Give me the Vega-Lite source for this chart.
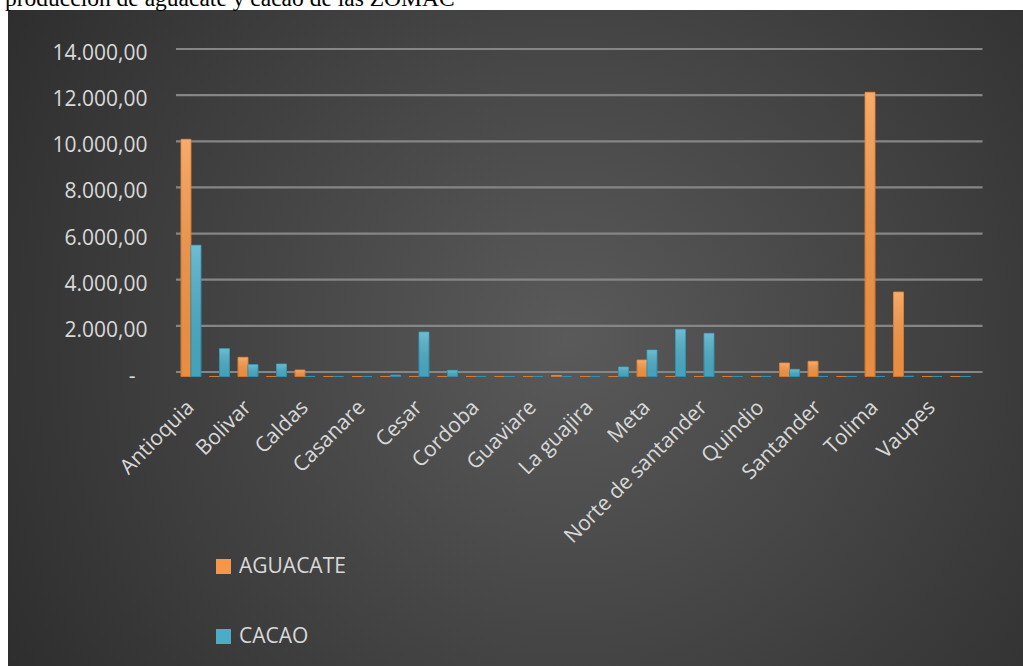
{
  "$schema": "https://vega.github.io/schema/vega-lite/v6.json",
  "width": 1015,
  "height": 656,
  "autosize": {"type": "none"},
  "padding": {"left": 8, "top": 10, "right": 0, "bottom": 0},
  "background": "white",
  "title": {
    "text": "producción de aguacate y cacao de las ZOMAC",
    "anchor": "start",
    "frame": "group",
    "font": "Liberation Serif",
    "fontSize": 23.5,
    "fontWeight": "normal",
    "color": "black",
    "baseline": "alphabetic",
    "offset": 0,
    "dx": -3,
    "dy": 19
  },
  "view": {
    "fill": {
      "gradient": "radial",
      "x1": 0.55, "y1": 0.5, "r1": 0,
      "x2": 0.55, "y2": 0.5, "r2": 0.75,
      "stops": [
        {"offset": 0, "color": "#5a5a5a"},
        {"offset": 1, "color": "#262626"}
      ]
    },
    "stroke": null
  },
  "config": {
    "locale": {
      "number": {"decimal": ",", "thousands": ".", "grouping": [3], "currency": ["", ""]}
    }
  },
  "datasets": {
    "produccion": [
      {"departamento": "Antioquia", "producto": "AGUACATE", "valor": 10280},
      {"departamento": "Antioquia", "producto": "CACAO", "valor": 5690},
      {"departamento": "Arauca", "producto": "AGUACATE", "valor": 0},
      {"departamento": "Arauca", "producto": "CACAO", "valor": 1205},
      {"departamento": "Bolivar", "producto": "AGUACATE", "valor": 832},
      {"departamento": "Bolivar", "producto": "CACAO", "valor": 512},
      {"departamento": "Boyaca", "producto": "AGUACATE", "valor": 0},
      {"departamento": "Boyaca", "producto": "CACAO", "valor": 542},
      {"departamento": "Caldas", "producto": "AGUACATE", "valor": 282},
      {"departamento": "Caldas", "producto": "CACAO", "valor": 0},
      {"departamento": "Caqueta", "producto": "AGUACATE", "valor": 0},
      {"departamento": "Caqueta", "producto": "CACAO", "valor": 0},
      {"departamento": "Casanare", "producto": "AGUACATE", "valor": 0},
      {"departamento": "Casanare", "producto": "CACAO", "valor": 0},
      {"departamento": "Cauca", "producto": "AGUACATE", "valor": 0},
      {"departamento": "Cauca", "producto": "CACAO", "valor": 60},
      {"departamento": "Cesar", "producto": "AGUACATE", "valor": 0},
      {"departamento": "Cesar", "producto": "CACAO", "valor": 1929},
      {"departamento": "Choco", "producto": "AGUACATE", "valor": 0},
      {"departamento": "Choco", "producto": "CACAO", "valor": 267},
      {"departamento": "Cordoba", "producto": "AGUACATE", "valor": 0},
      {"departamento": "Cordoba", "producto": "CACAO", "valor": 0},
      {"departamento": "Cundinamarca", "producto": "AGUACATE", "valor": 0},
      {"departamento": "Cundinamarca", "producto": "CACAO", "valor": 0},
      {"departamento": "Guaviare", "producto": "AGUACATE", "valor": 0},
      {"departamento": "Guaviare", "producto": "CACAO", "valor": 0},
      {"departamento": "Huila", "producto": "AGUACATE", "valor": 45},
      {"departamento": "Huila", "producto": "CACAO", "valor": 0},
      {"departamento": "La guajira", "producto": "AGUACATE", "valor": 0},
      {"departamento": "La guajira", "producto": "CACAO", "valor": 0},
      {"departamento": "Magdalena", "producto": "AGUACATE", "valor": 0},
      {"departamento": "Magdalena", "producto": "CACAO", "valor": 412},
      {"departamento": "Meta", "producto": "AGUACATE", "valor": 715},
      {"departamento": "Meta", "producto": "CACAO", "valor": 1149},
      {"departamento": "Nariño", "producto": "AGUACATE", "valor": 0},
      {"departamento": "Nariño", "producto": "CACAO", "valor": 2046},
      {"departamento": "Norte de santander", "producto": "AGUACATE", "valor": 0},
      {"departamento": "Norte de santander", "producto": "CACAO", "valor": 1872},
      {"departamento": "Putumayo", "producto": "AGUACATE", "valor": 0},
      {"departamento": "Putumayo", "producto": "CACAO", "valor": 0},
      {"departamento": "Quindio", "producto": "AGUACATE", "valor": 0},
      {"departamento": "Quindio", "producto": "CACAO", "valor": 0},
      {"departamento": "Risaralda", "producto": "AGUACATE", "valor": 585},
      {"departamento": "Risaralda", "producto": "CACAO", "valor": 312},
      {"departamento": "Santander", "producto": "AGUACATE", "valor": 658},
      {"departamento": "Santander", "producto": "CACAO", "valor": 0},
      {"departamento": "Sucre", "producto": "AGUACATE", "valor": 0},
      {"departamento": "Sucre", "producto": "CACAO", "valor": 0},
      {"departamento": "Tolima", "producto": "AGUACATE", "valor": 12318},
      {"departamento": "Tolima", "producto": "CACAO", "valor": 0},
      {"departamento": "Valle del cauca", "producto": "AGUACATE", "valor": 3662},
      {"departamento": "Valle del cauca", "producto": "CACAO", "valor": 10},
      {"departamento": "Vaupes", "producto": "AGUACATE", "valor": 0},
      {"departamento": "Vaupes", "producto": "CACAO", "valor": 0},
      {"departamento": "Vichada", "producto": "AGUACATE", "valor": 0},
      {"departamento": "Vichada", "producto": "CACAO", "valor": 0}
    ],
    "rejilla": [
      {"v": 0}, {"v": 2000}, {"v": 4000}, {"v": 6000},
      {"v": 8000}, {"v": 10000}, {"v": 12000}, {"v": 14000}
    ]
  },
  "layer": [
    {
      "data": {"name": "rejilla"},
      "mark": {
        "type": "rule",
        "color": "#868686",
        "strokeWidth": 2.2,
        "xOffset": -15,
        "x2Offset": 22,
        "yOffset": -4.5
      },
      "encoding": {
        "x": {"datum": "Antioquia", "type": "nominal"},
        "x2": {"datum": "Vichada"},
        "y": {"field": "v", "type": "quantitative", "title": null}
      }
    },
    {
      "data": {"name": "produccion"},
      "mark": {"type": "bar", "strokeWidth": 1},
      "encoding": {
        "x": {
          "field": "departamento",
          "type": "nominal",
          "sort": null,
          "scale": {
            "domain": ["Antioquia", "Arauca", "Bolivar", "Boyaca", "Caldas", "Caqueta", "Casanare", "Cauca", "Cesar", "Choco", "Cordoba", "Cundinamarca", "Guaviare", "Huila", "La guajira", "Magdalena", "Meta", "Nariño", "Norte de santander", "Putumayo", "Quindio", "Risaralda", "Santander", "Sucre", "Tolima", "Valle del cauca", "Vaupes", "Vichada"],
            "range": [173, 962.5],
            "paddingInner": 0.3,
            "paddingOuter": 0
          },
          "axis": {
            "title": null,
            "values": ["Antioquia", "Bolivar", "Caldas", "Casanare", "Cesar", "Cordoba", "Guaviare", "La guajira", "Meta", "Norte de santander", "Quindio", "Santander", "Tolima", "Vaupes"],
            "labelAngle": -45,
            "labelFont": "Open Sans",
            "labelFontSize": 21,
            "labelColor": "#d9d9d9",
            "labelLimit": 400,
            "labelOverlap": false,
            "domain": false,
            "ticks": false,
            "grid": false,
            "labelPadding": 4,
            "offset": -266
          }
        },
        "xOffset": {"field": "producto", "sort": null},
        "y": {
          "field": "valor",
          "type": "quantitative",
          "title": null,
          "scale": {"domain": [-12548, 15885], "nice": false, "zero": false},
          "axis": {
            "title": null,
            "values": [0, 2000, 4000, 6000, 8000, 10000, 12000, 14000],
            "format": ",.2f",
            "labelExpr": "datum.value == 0 ? '-' : datum.label",
            "labelFont": "Open Sans",
            "labelFontSize": 21,
            "labelColor": "#d9d9d9",
            "domain": false,
            "ticks": false,
            "grid": false,
            "labelPadding": {"condition": {"test": "datum.value == 0", "value": 12}, "value": 0},
            "offset": -139
          }
        },
        "y2": {"datum": 0},
        "color": {
          "field": "producto",
          "type": "nominal",
          "sort": null,
          "scale": {"range": ["#f79646", "#4bacc6"]},
          "legend": {
            "orient": "none",
            "legendX": 205,
            "legendY": 546,
            "title": null,
            "symbolType": "square",
            "symbolSize": 225,
            "symbolStrokeWidth": 0,
            "labelFont": "Open Sans",
            "labelFontSize": 21,
            "labelColor": "#d9d9d9",
            "labelOffset": 5,
            "rowPadding": 48
          }
        },
        "stroke": {
          "field": "producto",
          "type": "nominal",
          "sort": null,
          "scale": {"range": ["#d97a2c", "#2f93b3"]},
          "legend": null
        }
      }
    },
    {
      "data": {"name": "produccion"},
      "mark": {
        "type": "bar",
        "fill": {
          "gradient": "linear",
          "x1": 0, "y1": 0, "x2": 0, "y2": 1,
          "stops": [
            {"offset": 0, "color": "rgba(255,255,255,0.2)"},
            {"offset": 1, "color": "rgba(0,0,0,0.06)"}
          ]
        }
      },
      "encoding": {
        "x": {"field": "departamento", "type": "nominal", "sort": null},
        "xOffset": {"field": "producto", "sort": null},
        "y": {"field": "valor", "type": "quantitative", "title": null},
        "y2": {"datum": 0}
      }
    }
  ]
}
